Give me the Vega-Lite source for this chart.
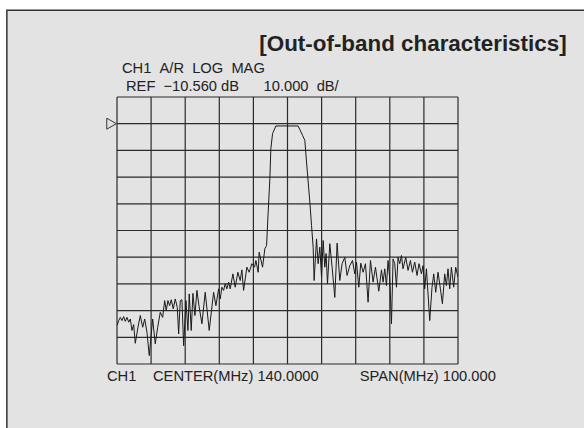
{
  "$schema": "https://vega.github.io/schema/vega-lite/v6.json",
  "width": 341,
  "height": 267,
  "autosize": {"type": "none"},
  "padding": {"left": 117, "top": 97, "right": 126, "bottom": 64},
  "background": "white",
  "config": {
    "view": {"stroke": null},
    "font": "Liberation Sans"
  },
  "datasets": {
    "one": [{}],
    "xgrid": [{"freq": 90}, {"freq": 100}, {"freq": 110}, {"freq": 120}, {"freq": 130}, {"freq": 140}, {"freq": 150}, {"freq": 160}, {"freq": 170}, {"freq": 180}, {"freq": 190}],
    "ygrid": [{"db": -100.56}, {"db": -90.56}, {"db": -80.56}, {"db": -70.56}, {"db": -60.56}, {"db": -50.56}, {"db": -40.56}, {"db": -30.56}, {"db": -20.56}, {"db": -10.56}, {"db": -0.56}],
    "trace": [
      {"freq": 90.00, "db": -86.2}, {"freq": 90.50, "db": -84.3}, {"freq": 90.97, "db": -83.1}, {"freq": 91.46, "db": -84.3},
      {"freq": 91.96, "db": -82.8}, {"freq": 92.43, "db": -84.6}, {"freq": 92.93, "db": -83.1}, {"freq": 93.43, "db": -84.9},
      {"freq": 93.90, "db": -83.7}, {"freq": 94.39, "db": -88.0}, {"freq": 94.89, "db": -85.8}, {"freq": 95.36, "db": -92.8},
      {"freq": 96.15, "db": -86.8}, {"freq": 96.83, "db": -82.4}, {"freq": 97.53, "db": -86.8}, {"freq": 98.12, "db": -83.7},
      {"freq": 98.79, "db": -88.7}, {"freq": 99.46, "db": -97.4}, {"freq": 99.96, "db": -90.6}, {"freq": 100.46, "db": -83.7},
      {"freq": 101.22, "db": -93.0}, {"freq": 101.93, "db": -86.8}, {"freq": 102.69, "db": -81.2}, {"freq": 103.39, "db": -83.1},
      {"freq": 103.98, "db": -76.8}, {"freq": 104.44, "db": -80.5}, {"freq": 104.94, "db": -76.8}, {"freq": 105.44, "db": -78.7},
      {"freq": 105.91, "db": -76.5}, {"freq": 106.50, "db": -79.9}, {"freq": 107.08, "db": -76.2}, {"freq": 107.67, "db": -79.3},
      {"freq": 108.08, "db": -89.3}, {"freq": 108.55, "db": -76.8}, {"freq": 109.04, "db": -76.5}, {"freq": 109.54, "db": -93.7},
      {"freq": 110.22, "db": -76.8}, {"freq": 110.80, "db": -88.0}, {"freq": 111.18, "db": -74.3}, {"freq": 111.77, "db": -88.0},
      {"freq": 112.27, "db": -74.1}, {"freq": 112.85, "db": -82.4}, {"freq": 113.44, "db": -73.0}, {"freq": 114.03, "db": -78.7},
      {"freq": 114.90, "db": -85.5}, {"freq": 115.87, "db": -73.7}, {"freq": 117.04, "db": -88.0}, {"freq": 118.33, "db": -73.7},
      {"freq": 119.01, "db": -78.7}, {"freq": 119.80, "db": -72.4}, {"freq": 120.27, "db": -76.2}, {"freq": 120.76, "db": -71.8},
      {"freq": 121.26, "db": -73.0}, {"freq": 121.73, "db": -70.5}, {"freq": 122.23, "db": -72.4}, {"freq": 122.73, "db": -69.9},
      {"freq": 123.20, "db": -72.4}, {"freq": 123.99, "db": -66.8}, {"freq": 124.66, "db": -71.8}, {"freq": 125.45, "db": -66.2},
      {"freq": 126.13, "db": -69.3}, {"freq": 126.62, "db": -65.3}, {"freq": 127.12, "db": -73.0}, {"freq": 128.09, "db": -64.3},
      {"freq": 128.76, "db": -66.2}, {"freq": 129.55, "db": -63.0}, {"freq": 130.35, "db": -64.3}, {"freq": 130.73, "db": -61.8},
      {"freq": 131.40, "db": -66.2}, {"freq": 131.69, "db": -58.7}, {"freq": 132.69, "db": -64.3}, {"freq": 133.36, "db": -57.4},
      {"freq": 133.86, "db": -56.2}, {"freq": 134.33, "db": -43.7}, {"freq": 134.83, "db": -31.2}, {"freq": 135.12, "db": -19.9},
      {"freq": 135.62, "db": -14.3}, {"freq": 136.59, "db": -11.4}, {"freq": 143.12, "db": -11.4}, {"freq": 144.41, "db": -14.9},
      {"freq": 145.08, "db": -16.8}, {"freq": 145.58, "db": -24.9}, {"freq": 146.55, "db": -39.9}, {"freq": 147.05, "db": -48.7},
      {"freq": 147.52, "db": -56.8}, {"freq": 147.81, "db": -69.3}, {"freq": 148.51, "db": -53.7}, {"freq": 148.98, "db": -63.0},
      {"freq": 149.48, "db": -56.8}, {"freq": 149.98, "db": -68.1}, {"freq": 150.45, "db": -54.3}, {"freq": 150.94, "db": -64.3},
      {"freq": 151.32, "db": -59.2}, {"freq": 151.73, "db": -70.5}, {"freq": 152.41, "db": -55.5}, {"freq": 153.08, "db": -64.3},
      {"freq": 153.87, "db": -75.6}, {"freq": 154.55, "db": -55.3}, {"freq": 155.34, "db": -69.3}, {"freq": 156.01, "db": -63.0},
      {"freq": 156.80, "db": -60.6}, {"freq": 157.48, "db": -67.4}, {"freq": 158.27, "db": -63.7}, {"freq": 159.06, "db": -61.8},
      {"freq": 159.73, "db": -66.8}, {"freq": 160.23, "db": -62.4}, {"freq": 160.91, "db": -71.8}, {"freq": 161.49, "db": -62.8},
      {"freq": 162.17, "db": -66.2}, {"freq": 162.87, "db": -63.0}, {"freq": 163.63, "db": -77.4}, {"freq": 164.33, "db": -61.8},
      {"freq": 165.10, "db": -69.9}, {"freq": 165.80, "db": -64.3}, {"freq": 166.77, "db": -73.3}, {"freq": 167.56, "db": -65.3},
      {"freq": 168.03, "db": -69.9}, {"freq": 168.52, "db": -64.9}, {"freq": 169.02, "db": -71.2}, {"freq": 169.49, "db": -61.8},
      {"freq": 169.99, "db": -68.7}, {"freq": 170.49, "db": -85.5}, {"freq": 170.96, "db": -61.2}, {"freq": 171.45, "db": -63.0},
      {"freq": 171.95, "db": -71.8}, {"freq": 172.42, "db": -60.6}, {"freq": 172.92, "db": -63.0}, {"freq": 173.42, "db": -59.9},
      {"freq": 173.88, "db": -64.9}, {"freq": 174.68, "db": -60.6}, {"freq": 175.35, "db": -65.5}, {"freq": 176.05, "db": -61.8},
      {"freq": 176.64, "db": -66.2}, {"freq": 177.31, "db": -62.4}, {"freq": 177.99, "db": -67.4}, {"freq": 178.57, "db": -63.0},
      {"freq": 179.28, "db": -66.8}, {"freq": 179.75, "db": -63.7}, {"freq": 180.24, "db": -72.4}, {"freq": 180.74, "db": -64.9},
      {"freq": 181.71, "db": -84.3}, {"freq": 182.38, "db": -71.8}, {"freq": 182.88, "db": -66.8}, {"freq": 183.47, "db": -73.7},
      {"freq": 184.14, "db": -66.2}, {"freq": 184.84, "db": -72.4}, {"freq": 185.43, "db": -78.0}, {"freq": 186.10, "db": -66.8},
      {"freq": 186.60, "db": -71.2}, {"freq": 187.07, "db": -64.9}, {"freq": 187.57, "db": -72.4}, {"freq": 188.07, "db": -64.3},
      {"freq": 188.74, "db": -71.8}, {"freq": 189.33, "db": -64.3}, {"freq": 190.00, "db": -68.1}
    ]
  },
  "layer": [
    {
      "data": {"name": "one"},
      "mark": {"type": "rect", "fill": "#e3e3e3", "stroke": "#333333", "strokeWidth": 1.5, "clip": false},
      "encoding": {
        "x": {"datum": 57.7, "type": "quantitative", "scale": {"domain": [90, 190], "nice": false, "zero": false}, "axis": null},
        "x2": {"datum": 235},
        "y": {"datum": 31.95, "type": "quantitative", "scale": {"domain": [-100.56, -0.56], "nice": false, "zero": false}, "axis": null},
        "y2": {"datum": -135}
      }
    },
    {
      "data": {"name": "xgrid"},
      "mark": {"type": "rule", "stroke": "#2b2b2b", "strokeWidth": 1.2},
      "encoding": {
        "x": {"field": "freq", "type": "quantitative", "scale": {"domain": [90, 190], "nice": false, "zero": false}, "axis": null}
      }
    },
    {
      "data": {"name": "ygrid"},
      "mark": {"type": "rule", "stroke": "#2b2b2b", "strokeWidth": 1.2},
      "encoding": {
        "y": {"field": "db", "type": "quantitative", "scale": {"domain": [-100.56, -0.56], "nice": false, "zero": false}, "axis": null}
      }
    },
    {
      "data": {"name": "trace"},
      "mark": {"type": "line", "stroke": "#1a1a1a", "strokeWidth": 1, "clip": true},
      "encoding": {
        "x": {"field": "freq", "type": "quantitative", "scale": {"domain": [90, 190], "nice": false, "zero": false}, "axis": null},
        "y": {"field": "db", "type": "quantitative", "scale": {"domain": [-100.56, -0.56], "nice": false, "zero": false}, "axis": null}
      }
    },
    {
      "data": {"name": "one"},
      "mark": {"type": "point", "shape": "triangle-right", "filled": false, "stroke": "#333333", "strokeWidth": 1, "size": 120, "opacity": 1, "clip": false},
      "encoding": {
        "x": {"datum": 88.39, "type": "quantitative", "scale": {"domain": [90, 190], "nice": false, "zero": false}, "axis": null},
        "y": {"datum": -10.56, "type": "quantitative", "scale": {"domain": [-100.56, -0.56], "nice": false, "zero": false}, "axis": null}
      }
    },
    {
      "data": {"name": "one"},
      "mark": {"type": "text", "text": "[Out-of-band characteristics]", "align": "right", "baseline": "middle", "fontSize": 22.4, "fontWeight": "bold", "color": "#222222", "clip": false},
      "encoding": {
        "x": {"datum": 221.85, "type": "quantitative", "scale": {"domain": [90, 190], "nice": false, "zero": false}, "axis": null},
        "y": {"datum": 19.2, "type": "quantitative", "scale": {"domain": [-100.56, -0.56], "nice": false, "zero": false}, "axis": null}
      }
    },
    {
      "data": {"name": "one"},
      "mark": {"type": "text", "text": "CH1\u00a0\u00a0A/R\u00a0\u00a0LOG\u00a0\u00a0MAG", "align": "left", "baseline": "middle", "fontSize": 14.7, "color": "#222222", "clip": false},
      "encoding": {
        "x": {"datum": 91.47, "type": "quantitative", "scale": {"domain": [90, 190], "nice": false, "zero": false}, "axis": null},
        "y": {"datum": 10.09, "type": "quantitative", "scale": {"domain": [-100.56, -0.56], "nice": false, "zero": false}, "axis": null}
      }
    },
    {
      "data": {"name": "one"},
      "mark": {"type": "text", "text": "REF\u00a0\u00a0\u221210.560\u00a0dB\u00a0\u00a0\u00a0\u00a0\u00a0\u00a010.000\u00a0\u00a0dB/", "align": "left", "baseline": "middle", "fontSize": 14.7, "color": "#222222", "clip": false},
      "encoding": {
        "x": {"datum": 92.64, "type": "quantitative", "scale": {"domain": [90, 190], "nice": false, "zero": false}, "axis": null},
        "y": {"datum": 3.08, "type": "quantitative", "scale": {"domain": [-100.56, -0.56], "nice": false, "zero": false}, "axis": null}
      }
    },
    {
      "data": {"name": "one"},
      "mark": {"type": "text", "text": "CH1", "align": "left", "baseline": "middle", "fontSize": 14.7, "color": "#222222", "clip": false},
      "encoding": {
        "x": {"datum": 87.07, "type": "quantitative", "scale": {"domain": [90, 190], "nice": false, "zero": false}, "axis": null},
        "y": {"datum": -105.3, "type": "quantitative", "scale": {"domain": [-100.56, -0.56], "nice": false, "zero": false}, "axis": null}
      }
    },
    {
      "data": {"name": "one"},
      "mark": {"type": "text", "text": "CENTER(MHz) 140.0000", "align": "left", "baseline": "middle", "fontSize": 14.7, "color": "#222222", "clip": false},
      "encoding": {
        "x": {"datum": 100.55, "type": "quantitative", "scale": {"domain": [90, 190], "nice": false, "zero": false}, "axis": null},
        "y": {"datum": -105.3, "type": "quantitative", "scale": {"domain": [-100.56, -0.56], "nice": false, "zero": false}, "axis": null}
      }
    },
    {
      "data": {"name": "one"},
      "mark": {"type": "text", "text": "SPAN(MHz) 100.000", "align": "left", "baseline": "middle", "fontSize": 14.7, "color": "#222222", "clip": false},
      "encoding": {
        "x": {"datum": 161.2, "type": "quantitative", "scale": {"domain": [90, 190], "nice": false, "zero": false}, "axis": null},
        "y": {"datum": -105.3, "type": "quantitative", "scale": {"domain": [-100.56, -0.56], "nice": false, "zero": false}, "axis": null}
      }
    }
  ]
}
